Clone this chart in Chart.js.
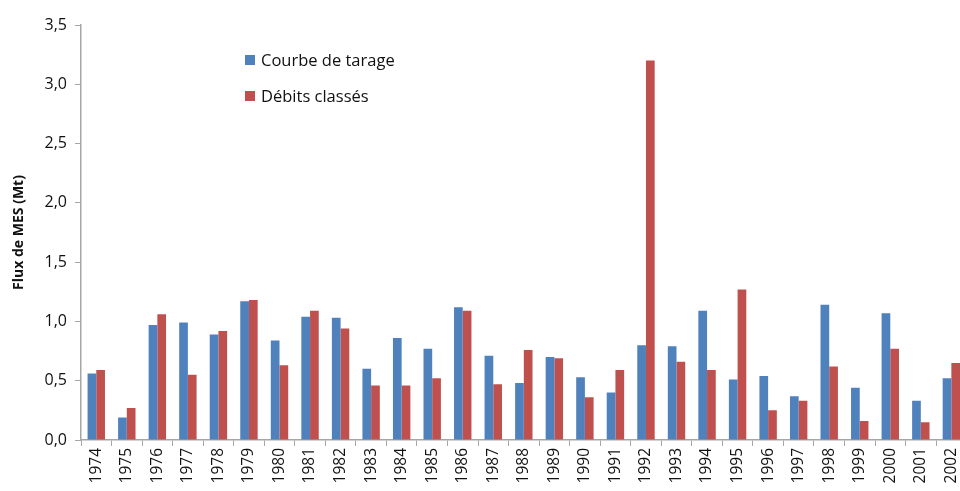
<!DOCTYPE html>
<html>
<head>
<meta charset="utf-8">
<script src="https://cdn.jsdelivr.net/npm/chart.js@4"></script>
<style>
  html, body { margin: 0; padding: 0; background: #fff; overflow: hidden; }
  #wrap { position: relative; width: 972px; height: 491px; }
  #legend { position: absolute; left: 245px; top: 48px; font-family: "Open Sans", sans-serif; font-size: 16.5px; color: #111; }
  #legend div { height: 36px; display: flex; align-items: flex-start; }
  #legend span.box { display: inline-block; width: 10px; height: 10px; margin: 7px 6px 0 0; }
</style>
</head>
<body>
<div id="wrap">
  <canvas id="chart"></canvas>
  <div id="legend"></div>
</div>
<script>
// Flux de MES par année
var years = ['1974','1975','1976','1977','1978','1979','1980','1981','1982','1983','1984','1985','1986','1987','1988',
             '1989','1990','1991','1992','1993','1994','1995','1996','1997','1998','1999','2000','2001','2002'];
var courbeTarage = [0.56, 0.19, 0.97, 0.99, 0.89, 1.17, 0.84, 1.04, 1.03, 0.60, 0.86, 0.77, 1.12, 0.71, 0.48,
                    0.70, 0.53, 0.40, 0.80, 0.79, 1.09, 0.51, 0.54, 0.37, 1.14, 0.44, 1.07, 0.33, 0.52];
var debitsClasses = [0.59, 0.27, 1.06, 0.55, 0.92, 1.18, 0.63, 1.09, 0.94, 0.46, 0.46, 0.52, 1.09, 0.47, 0.76,
                     0.69, 0.36, 0.59, 3.20, 0.66, 0.59, 1.27, 0.25, 0.33, 0.62, 0.16, 0.77, 0.15, 0.65];
var seriesNames = ['Courbe de tarage', 'Débits classés'];
var seriesColors = ['#4F81BD', '#C0504D'];

var font = '"Open Sans", sans-serif';
var axisGrey = '#A6A6A6';

var ctx = document.getElementById('chart').getContext('2d');
var fluxChart = new Chart(ctx, {
    type: 'bar',
    data: {
        labels: years,
        datasets: [
            { label: seriesNames[0], data: courbeTarage, backgroundColor: seriesColors[0] },
            { label: seriesNames[1], data: debitsClasses, backgroundColor: seriesColors[1] },
        ],
    },
    options: {
        responsive: true,
        maintainAspectRatio: false,
        animation: false,
        layout: { padding: { top: 25, right: 2, left: 9, bottom: 0 } },
        datasets: { bar: { barPercentage: 1.0, categoryPercentage: 0.57 } },
        plugins: {
            legend: { display: false },
            tooltip: { enabled: false },
        },
        scales: {
            x: {
                grid: { display: true, drawOnChartArea: false, color: axisGrey, tickLength: 6, offset: true },
                border: { color: axisGrey, width: 1.5 },
                ticks: {
                    minRotation: 90, maxRotation: 90, autoSkip: false,
                    font: { family: font, size: 15.5 }, color: '#111', padding: 2,
                },
                afterFit: function(scale) { scale.height = 51; },
            },
            y: {
                min: 0, max: 3.5,
                grid: { display: true, drawOnChartArea: false, color: axisGrey, tickLength: 6 },
                border: { color: axisGrey, width: 1.5 },
                ticks: {
                    stepSize: 0.5,
                    font: { family: font, size: 16 }, color: '#111', padding: 8,
                    callback: function(value) {
                        return value.toFixed(1).replace('.', ','); // virgule décimale
                    },
                },
                title: {
                    display: true, text: 'Flux de MES (Mt)',
                    font: { family: font, size: 14, weight: 'bold' }, color: '#111', padding: 2,
                },
                afterFit: function(scale) { scale.width = 72; },
            },
        },
    },
});

// Legend (HTML, placed inside the plot)
var legendEl = document.getElementById('legend');
fluxChart.data.datasets.forEach(function(ds) {
    var row = document.createElement('div');
    row.innerHTML = '<span class="box" style="background:' + ds.backgroundColor + '"></span>' + ds.label;
    legendEl.appendChild(row);
});
</script>
</body>
</html>
